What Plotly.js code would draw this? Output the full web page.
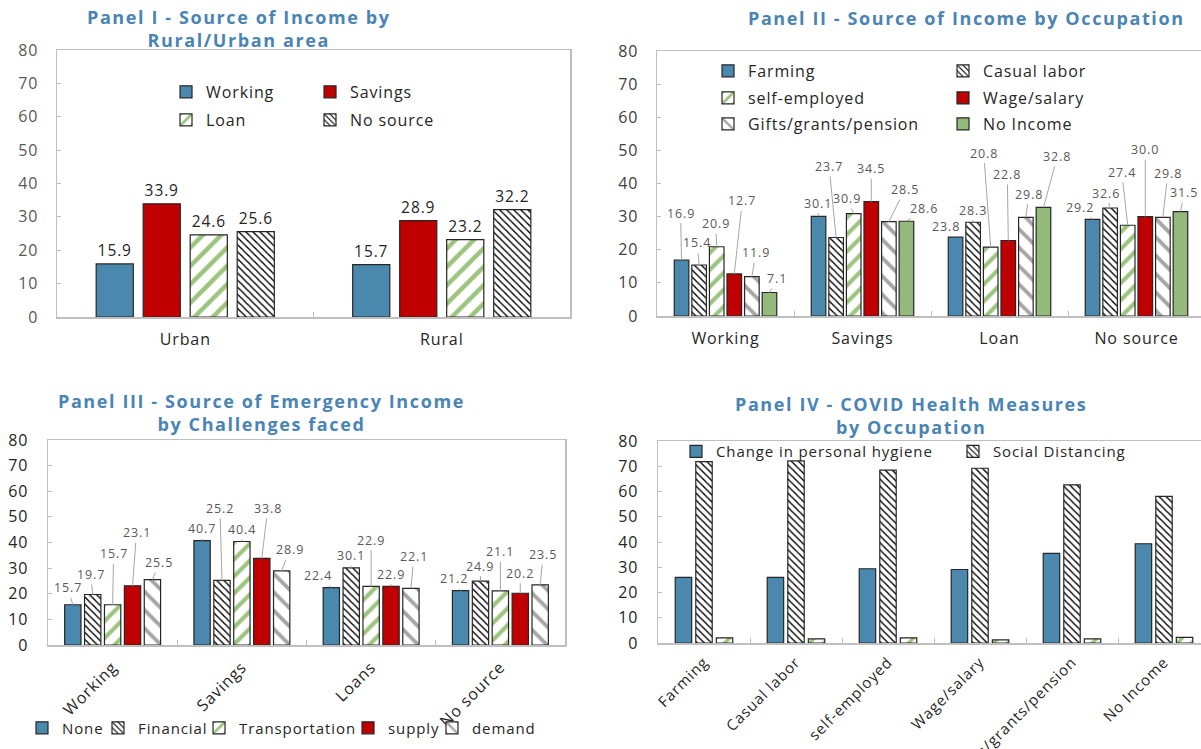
<!DOCTYPE html>
<html>
<head>
<meta charset="utf-8">
<script src="https://cdn.plot.ly/plotly-3.0.1.min.js"></script>
<style>
html,body{margin:0;padding:0;overflow:hidden;background:#fff;width:1201px;height:749px;}
.panel{position:absolute;}
text{letter-spacing:0.9px;}
</style>
</head>
<body>
<div id="p1" class="panel" style="left:0;top:0;width:600px;height:375px"></div>
<div id="p2" class="panel" style="left:600px;top:0;width:610px;height:375px"></div>
<div id="p3" class="panel" style="left:0;top:375px;width:600px;height:374px"></div>
<div id="p4" class="panel" style="left:600px;top:375px;width:612px;height:374px"></div>
<script>
// ---------------- DATA ----------------
const p1Categories = ['Urban', 'Rural'];
const p1Working = [15.9, 15.7];
const p1Savings = [33.9, 28.9];
const p1Loan = [24.6, 23.2];
const p1NoSource = [25.6, 32.2];

const p2Categories = ['Working', 'Savings', 'Loan', 'No source'];
const p2Farming = [16.9, 30.1, 23.8, 29.2];
const p2Casual = [15.4, 23.7, 28.3, 32.6];
const p2SelfEmployed = [20.9, 30.9, 20.8, 27.4];
const p2Wage = [12.7, 34.5, 22.8, 30.0];
const p2Gifts = [11.9, 28.5, 29.8, 29.8];
const p2NoIncome = [7.1, 28.6, 32.8, 31.5];

const p3Categories = ['Working', 'Savings', 'Loans', 'No source'];
const p3None = [15.7, 40.7, 22.4, 21.2];
const p3Financial = [19.7, 25.2, 30.1, 24.9];
const p3Transportation = [15.7, 40.4, 22.9, 21.1];
const p3Supply = [23.1, 33.8, 22.9, 20.2];
const p3Demand = [25.5, 28.9, 22.1, 23.5];

const p4Categories = ['Farming', 'Casual labor', 'self-employed', 'Wage/salary', 'Gifts/grants/pension', 'No Income'];
const p4Hygiene = [26.0, 26.0, 29.4, 29.1, 35.5, 39.3];
const p4Distancing = [71.8, 72.1, 68.5, 69.2, 62.6, 58.1];
const p4Other = [2.0, 1.6, 2.0, 1.2, 1.6, 2.2];

const titles = [
  ['Panel I - Source of Income by', 'Rural/Urban area'],
  ['Panel II - Source of Income by Occupation'],
  ['Panel III - Source of Emergency Income', 'by Challenges faced'],
  ['Panel IV - COVID Health Measures', 'by Occupation']
];

// ---------------- LABEL OFFSETS (pixels, [ax, ay]) ----------------
const p2LabelOffsets = [
  [[-1,-47],[-2,-22],[-1,-23],[8,-73],[4,-24],[8,-14]],
  [[-1,-13],[-7,-71],[-7,-15],[0,-33],[16,-32],[18,-13]],
  [[-10,-11],[0,-12],[-7,-94],[-1,-66],[3,-23],[14,-51]],
  [[-13,-12],[-4,-15],[-6,-53],[0,-67],[5,-44],[4,-19]]
];
const p3LabelOffsets = [
  [[-5,-17],[-2,-20],[1,-51],[4,-53],[7,-17]],
  [[0,-12],[-2,-72],[0,-12],[6,-50],[8,-21]],
  [[-13,-12],[0,-12],[0,-46],[0,-12],[3,-32]],
  [[-7,-12],[0,-15],[0,-39],[0,-20],[3,-30]]
];

// ---------------- STYLES ----------------
const FONT = '"Open Sans", "Noto Sans", sans-serif';
const BLUE = '#4A88AD', RED = '#C00000', GREEN = '#9CC47E', NOINC = '#95B97A', GREYS = '#A6A6A6';
const OUT = '#262626', TITLE = '#4A84B5', AXIS = '#BFBFBF';
const outline = {color: OUT, width: 1.2};

function solid(c) { return {color: c, line: outline}; }
function patt(shape, fg, size, sol) {
  return {color: 'white', line: outline,
    pattern: {shape: shape, fgcolor: fg, bgcolor: 'white', size: size, solidity: sol, fillmode: 'replace'}};
}
const HATCH = function () { return patt('\\', '#000000', 5, 0.28); };
const STRIPE = function (s) { return patt('/', GREEN, s, 0.35); };
const GSTRIPE = function () { return patt('\\', GREYS, 13, 0.3); };

function bar(name, x, y, marker, extra) {
  return Object.assign({type: 'bar', name: name, x: x, y: y, marker: marker, hoverinfo: 'skip', showlegend: true}, extra || {});
}

function axisX(extra) {
  return Object.assign({type: 'category', showline: true, linecolor: AXIS, linewidth: 1.5, mirror: true,
    ticks: 'inside', tickson: 'boundaries', ticklen: 5, tickcolor: AXIS, showgrid: false, zeroline: false,
    ticklabelstandoff: 7, tickfont: {family: FONT, size: 16, color: '#262626'}, fixedrange: true}, extra || {});
}
function axisY(extra) {
  return Object.assign({range: [0, 80], dtick: 10, showline: true, linecolor: AXIS, linewidth: 1.5, mirror: true,
    ticks: 'inside', ticklen: 4, tickcolor: AXIS, showgrid: false, zeroline: false, ticklabelstandoff: 14,
    tickfont: {family: FONT, size: 16, color: '#404040'}, fixedrange: true}, extra || {});
}
function titleAnn(lines, x, y) {
  const txt = lines.map(function (l) { return '<span style="letter-spacing:1.6px">' + l + '</span>'; }).join('<br>');
  return {text: txt, xref: 'paper', yref: 'paper', x: x, y: y, xanchor: 'center', yanchor: 'middle',
    showarrow: false, font: {family: FONT, size: 18, color: TITLE, weight: 'bold'}};
}
function legendItem(x, y, size) {
  return {orientation: 'h', x: x, xanchor: 'left', y: y, yanchor: 'middle', visible: true,
    font: {family: FONT, size: size, color: '#262626'}, bgcolor: 'rgba(0,0,0,0)',
    itemclick: false, itemdoubleclick: false};
}

function makeLabels(series, offsets, bargap, fontSize) {
  const n = series.length, slot = (1 - bargap) / n, ann = [];
  series.forEach(function (vals, j) {
    vals.forEach(function (v, i) {
      ann.push({x: i + (j - (n - 1) / 2) * slot, y: v, xref: 'x', yref: 'y', text: v.toFixed(1),
        showarrow: true, arrowhead: 0, arrowwidth: 1, arrowcolor: GREYS, standoff: 0,
        ax: offsets[i][j][0], ay: offsets[i][j][1],
        font: {family: FONT, size: fontSize, color: '#595959'}});
    });
  });
  return ann;
}

const config = {staticPlot: true, displayModeBar: false};
const base = {font: {family: FONT, size: 16, color: '#404040'}, paper_bgcolor: 'white', plot_bgcolor: 'white',
  barmode: 'group', showlegend: true};

// ---------------- PANEL I ----------------
(function () {
  const traces = [
    bar('Working', p1Categories, p1Working, solid(BLUE), {legend: 'legend'}),
    bar('Savings', p1Categories, p1Savings, solid(RED), {legend: 'legend2'}),
    bar('Loan', p1Categories, p1Loan, STRIPE(13), {legend: 'legend3'}),
    bar('No source', p1Categories, p1NoSource, HATCH(), {legend: 'legend4'})
  ];
  traces.forEach(function (t) {
    t.texttemplate = '%{y:.1f}'; t.textposition = 'outside'; t.cliponaxis = false;
    t.textfont = {family: FONT, size: 15.5, color: '#262626'};
  });
  const layout = Object.assign({}, base, {
    width: 600, height: 375, margin: {l: 57, r: 30, t: 50, b: 58, autoexpand: false},
    bargap: 0.267, bargroupgap: 0.21,
    xaxis: axisX(),
    yaxis: axisY({tickfont: {family: FONT, size: 16, color: '#595959'}}),
    legend: legendItem(0.2125, 0.843, 16),
    legend2: legendItem(0.4932, 0.843, 16),
    legend3: legendItem(0.2125, 0.738, 16),
    legend4: legendItem(0.4932, 0.738, 16),
    annotations: [titleAnn(titles[0], 0.3548, 1.0787)]
  });
  Plotly.newPlot('p1', traces, layout, config);
})();

// ---------------- PANEL II ----------------
(function () {
  const gap = 0.23;
  const traces = [
    bar('Farming', p2Categories, p2Farming, solid(BLUE), {legend: 'legend'}),
    bar('Casual labor', p2Categories, p2Casual, HATCH(), {legend: 'legend2'}),
    bar('self-employed', p2Categories, p2SelfEmployed, STRIPE(12), {legend: 'legend3'}),
    bar('Wage/salary', p2Categories, p2Wage, solid(RED), {legend: 'legend4'}),
    bar('Gifts/grants/pension', p2Categories, p2Gifts, GSTRIPE(), {legend: 'legend5'}),
    bar('No Income', p2Categories, p2NoIncome, solid(NOINC), {legend: 'legend6'})
  ];
  const layout = Object.assign({}, base, {
    width: 610, height: 375, margin: {l: 57, r: 5, t: 51, b: 59, autoexpand: false},
    bargap: gap, bargroupgap: 0.17,
    xaxis: axisX(),
    yaxis: axisY(),
    legend: legendItem(0.0931, 0.9245, 16),
    legend2: legendItem(0.5219, 0.9245, 16),
    legend3: legendItem(0.0931, 0.8226, 16),
    legend4: legendItem(0.5219, 0.8226, 16),
    legend5: legendItem(0.0931, 0.7245, 16),
    legend6: legendItem(0.5219, 0.7245, 16),
    annotations: [titleAnn(titles[1], 0.5639, 1.1245)].concat(
      makeLabels([p2Farming, p2Casual, p2SelfEmployed, p2Wage, p2Gifts, p2NoIncome], p2LabelOffsets, gap, 12.5))
  });
  Plotly.newPlot('p2', traces, layout, config);
})();

// ---------------- PANEL III ----------------
(function () {
  const gap = 0.23;
  const traces = [
    bar('None', p3Categories, p3None, solid(BLUE), {legend: 'legend'}),
    bar('Financial', p3Categories, p3Financial, HATCH(), {legend: 'legend2'}),
    bar('Transportation', p3Categories, p3Transportation, STRIPE(12), {legend: 'legend3'}),
    bar('supply', p3Categories, p3Supply, solid(RED), {legend: 'legend4'}),
    bar('demand', p3Categories, p3Demand, GSTRIPE(), {legend: 'legend5'})
  ];
  const ly = -0.405;
  const layout = Object.assign({}, base, {
    width: 600, height: 374, margin: {l: 48, r: 35, t: 65, b: 104, autoexpand: false},
    bargap: gap, bargroupgap: 0.18,
    xaxis: axisX({tickangle: -45, ticklabelstandoff: 5}),
    yaxis: axisY({ticklabelstandoff: 15, tickfont: {family: FONT, size: 16, color: '#262626'}}),
    legend: legendItem(-0.0503, ly, 15),
    legend2: legendItem(0.0967, ly, 15),
    legend3: legendItem(0.2921, ly, 15),
    legend4: legendItem(0.5803, ly, 15),
    legend5: legendItem(0.7427, ly, 15),
    annotations: [titleAnn(titles[2], 0.4139, 1.134)].concat(
      makeLabels([p3None, p3Financial, p3Transportation, p3Supply, p3Demand], p3LabelOffsets, gap, 12.5))
  });
  Plotly.newPlot('p3', traces, layout, config);
})();

// ---------------- PANEL IV ----------------
(function () {
  const traces = [
    bar('Change in personal hygiene', p4Categories, p4Hygiene, solid(BLUE), {legend: 'legend'}),
    bar('Social Distancing', p4Categories, p4Distancing, HATCH(), {legend: 'legend2'}),
    bar('Other', p4Categories, p4Other, STRIPE(10), {showlegend: false})
  ];
  const layout = Object.assign({}, base, {
    width: 612, height: 374, margin: {l: 58, r: 2, t: 66, b: 106, autoexpand: false},
    bargap: 0.33, bargroupgap: 0.2,
    xaxis: axisX({tickangle: -45, ticklabelstandoff: 3, tickfont: {family: FONT, size: 15, color: '#262626'}}),
    yaxis: axisY({ticklabelstandoff: 15, tickfont: {family: FONT, size: 16, color: '#262626'}}),
    legend: legendItem(0.0326, 0.947, 15),
    legend2: legendItem(0.5344, 0.947, 15),
    annotations: [titleAnn(titles[3], 0.4583, 1.126)]
  });
  Plotly.newPlot('p4', traces, layout, config);
})();
</script>
</body>
</html>
